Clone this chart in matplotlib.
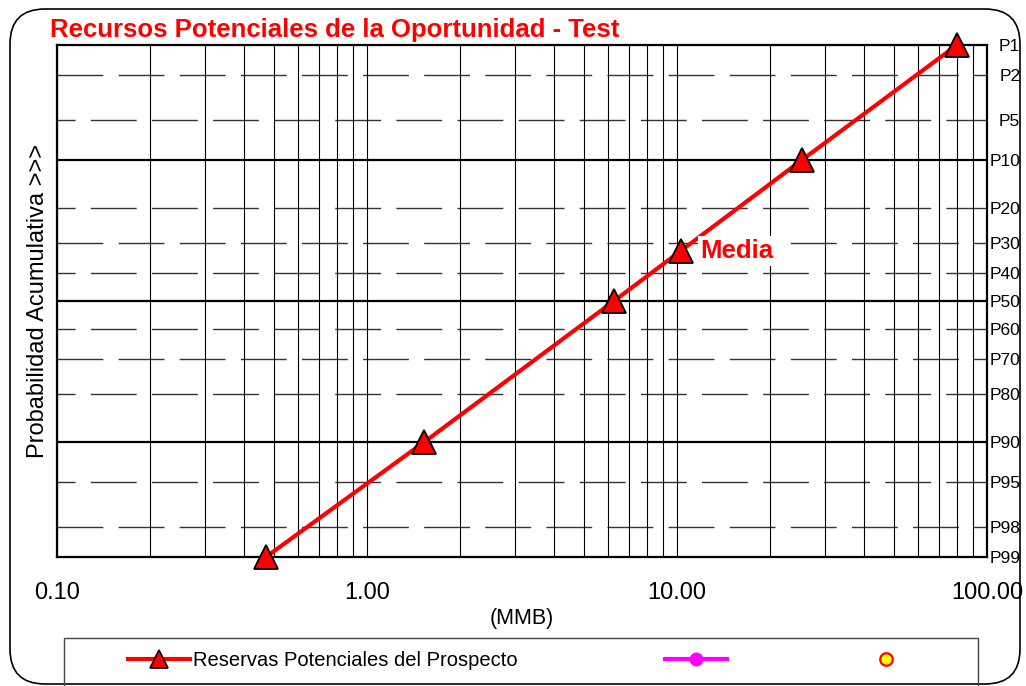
import numpy as np
import matplotlib
matplotlib.use("Agg")
import matplotlib.pyplot as plt
from matplotlib.patches import FancyBboxPatch, Rectangle
from matplotlib.ticker import FixedLocator, LogLocator, NullFormatter
from matplotlib.lines import Line2D
from statistics import NormalDist

plt.rcParams['font.family'] = ['Liberation Sans', 'DejaVu Sans']

# reservas (MMB) vs probabilidad acumulada (%)
volumenes = [0.472, 1.53, 6.26, 10.3, 25.3, 80.0]
probabilidades = [99, 90, 50, 32.4, 10, 1]
media_vol = 10.3
media_prob = 32.4

prob_ticks = [1, 2, 5, 10, 20, 30, 40, 50, 60, 70, 80, 90, 95, 98, 99]
prob_labels = ['P%d' % p for p in prob_ticks]
lineas_solidas = [10, 50, 90]
x_ticks = [0.1, 1, 10, 100]
x_labels = ['0.10', '1.00', '10.00', '100.00']

# escala de probabilidad normal
nd = NormalDist()
_ppf = np.vectorize(lambda p: nd.inv_cdf(min(max(p / 100.0, 1e-9), 1 - 1e-9)),
                    otypes=[float])
_cdf = np.vectorize(lambda z: nd.cdf(z) * 100.0, otypes=[float])


def fwd(p):
    return _ppf(np.asarray(p, dtype=float))


def inv(z):
    return _cdf(np.asarray(z, dtype=float))


fig = plt.figure(figsize=(10.26, 6.86), dpi=100)

# marco redondeado de todo el grafico
marco = FancyBboxPatch((0.10, 0.02), 10.10, 6.75,
                       boxstyle='round,pad=0,rounding_size=0.35',
                       transform=fig.dpi_scale_trans, fill=False,
                       edgecolor='black', lw=1.2)
fig.patches.append(marco)

ax = fig.add_axes([57 / 1026, 1 - 557 / 686, 930 / 1026, 512 / 686])
ax.set_xscale('log')
ax.set_yscale('function', functions=(fwd, inv))
ax.set_xlim(0.1, 100)
ax.set_ylim(99, 1)

# rejilla vertical
ax.xaxis.set_major_locator(FixedLocator(x_ticks))
ax.xaxis.set_minor_locator(LogLocator(base=10, subs=np.arange(2, 10)))
ax.xaxis.set_minor_formatter(NullFormatter())
ax.set_xticklabels(x_labels, fontsize=17)
ax.grid(which='both', axis='x', color='black', lw=0.8)
ax.tick_params(axis='x', which='both', length=0, pad=18)

# rejilla horizontal
for i, p in enumerate(prob_ticks[1:-1]):
    if p in lineas_solidas:
        ax.axhline(p, color='black', lw=1.6, zorder=1)
    else:
        off = 0 if i % 2 == 0 else 20
        ax.axhline(p, color='#333333', lw=1.0, zorder=1,
                   linestyle=(off, (33, 11)))

ax.yaxis.set_major_locator(FixedLocator(prob_ticks))
ax.yaxis.set_minor_locator(FixedLocator([]))
ax.set_yticklabels(prob_labels, fontsize=12.5)
ax.yaxis.tick_right()
ax.tick_params(axis='y', length=0, pad=24)
for lab in ax.get_yticklabels():
    lab.set_ha('right')

for s in ax.spines.values():
    s.set_linewidth(1.6)

ax.plot(volumenes, probabilidades, color='red', lw=3, marker='^', ms=17,
        markerfacecolor='red', markeredgecolor='black', markeredgewidth=1.3,
        zorder=5, clip_on=False)

ax.annotate('Media', (media_vol, media_prob), xytext=(14, 0),
            textcoords='offset points', color='red', fontsize=18.5,
            fontweight='bold', va='center', ha='left', zorder=6,
            bbox=dict(facecolor='white', edgecolor='none', pad=2))

ax.set_ylabel('Probabilidad Acumulativa >>>', fontsize=17, labelpad=6)
ax.set_xlabel('(MMB)', fontsize=15.5, labelpad=3)

fig.text(50 / 1026, 1 - 30 / 686, 'Recursos Potenciales de la Oportunidad - Test',
         color='red', fontsize=18.5, fontweight='bold', va='center', ha='left')

# recuadro de la leyenda
fig.patches.append(Rectangle((64 / 1026, -0.05), 914 / 1026, 1 - 638 / 686 + 0.05,
                             transform=fig.transFigure, fill=False,
                             edgecolor='#444444', lw=1.0))

entradas = [
    (Line2D([], [], color='red', lw=3, marker='^', ms=13, markerfacecolor='red',
            markeredgecolor='black', markeredgewidth=1.2),
     'Reservas Potenciales del Prospecto', 128),
    (Line2D([], [], color='magenta', lw=3, marker='o', ms=9,
            markerfacecolor='magenta', markeredgecolor='magenta'), '', 665),
    (Line2D([], [], color='none', marker='o', ms=9,
            markerfacecolor='yellow', markeredgecolor='red', markeredgewidth=1.6),
     '', 855),
]
for h, lab, x0 in entradas:
    fig.legend([h], [lab], loc='center left',
               bbox_to_anchor=(x0 / 1026, 1 - 661 / 686), frameon=False,
               fontsize=14.5, handlelength=3.1, handletextpad=0.15,
               borderpad=0, borderaxespad=0)

fig.savefig('out.png', dpi=100)
